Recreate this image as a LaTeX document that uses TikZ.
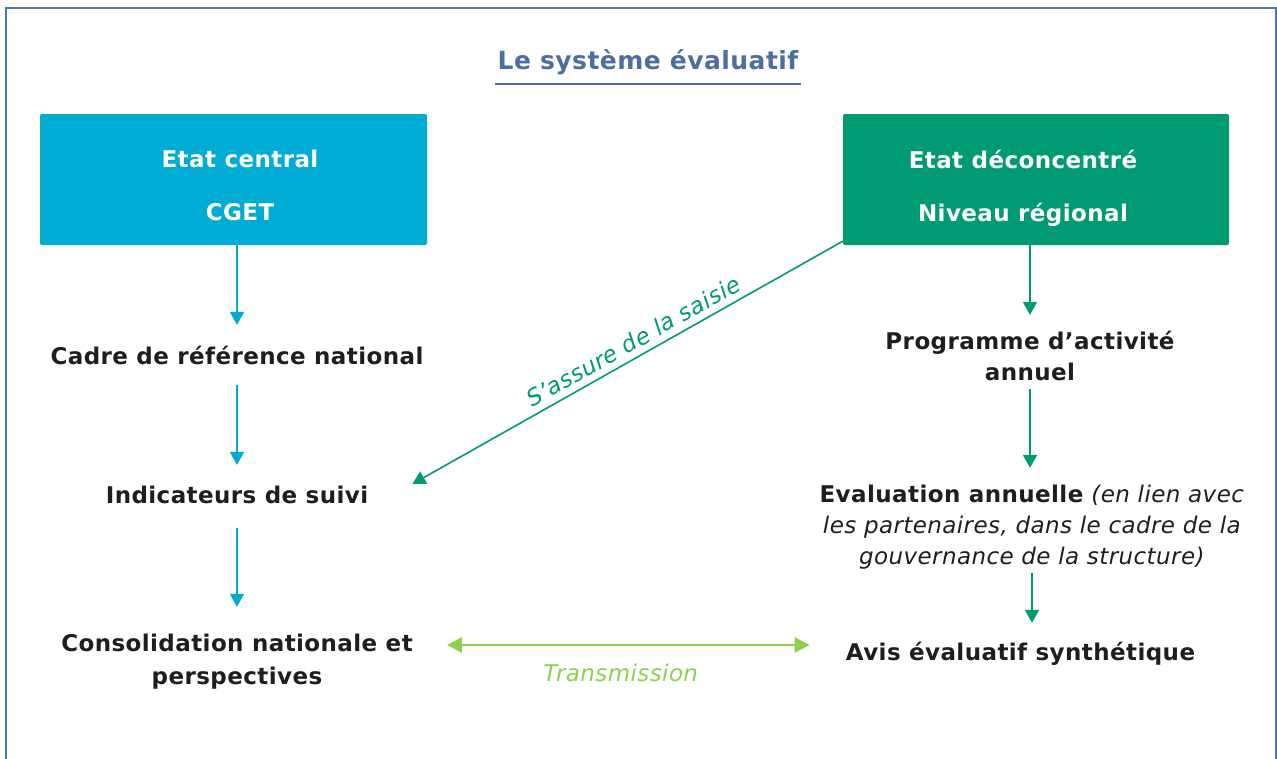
\documentclass[tikz,border=0pt]{standalone}
\usepackage{fontspec}
\setmainfont{DejaVu Sans}[LetterSpace=1.8]
\usetikzlibrary{arrows.meta}
\definecolor{cblue}{HTML}{00ABD4}
\definecolor{cgreen}{HTML}{009B72}
\definecolor{clight}{HTML}{8DD050}
\definecolor{ctitle}{HTML}{4A6FA0}
\definecolor{cframe}{HTML}{4E76A9}
\definecolor{ctext}{HTML}{1E1E1E}
\begin{document}
\begin{tikzpicture}[x=1pt,y=-1pt,
  box/.style={rounded corners=2pt, minimum width=387pt, minimum height=131pt, inner sep=0pt},
  boxtext/.style={text=white, font=\fontsize{23}{53}\selectfont\bfseries, align=center, inner sep=0pt, anchor=north},
  body/.style={text=ctext, font=\fontsize{23}{31}\selectfont, align=center, inner sep=0pt, anchor=north},
  barrow/.style={draw=cblue, line width=1.6pt, -{Triangle[width=14pt,length=13pt]}, cblue},
  garrow/.style={draw=cgreen, line width=1.6pt, -{Triangle[width=14pt,length=13pt]}, cgreen},
  larrow/.style={draw=clight, line width=2.6pt, {Triangle[width=15pt,length=15pt]}-{Triangle[width=15pt,length=15pt]}, clight},
  lbl/.style={font=\fontsize{23}{28}\selectfont\itshape, inner sep=0pt}
]
\useasboundingbox (0,0) rectangle (1277,758);
% frame
\draw[cframe, line width=2pt] (6,760) -- (6,8) -- (1276,8) -- (1276,760);

% title
\node[text=ctitle, font=\fontsize{25}{30}\selectfont\bfseries, inner sep=0pt] (title) at (648,62) {Le système évaluatif};
\draw[ctitle, line width=2pt] ([shift={(-2,22)}]title.west) -- ([shift={(2,22)}]title.east);

% boxes
\node[box, fill=cblue] (ec) at (233.5,179.5) {};
\node[boxtext] (ect) at (240,150.3) {Etat central\\CGET};
\node[box, fill=cgreen, minimum width=386pt] (ds) at (1036,179.5) {};
\node[boxtext] (dst) at (1023,150.3) {Etat déconcentré\\Niveau régional};

% left column
\node[body] (cadre) at (237,345.9) {\bfseries Cadre de référence national};
\node[body] (indic) at (237,485.9) {\bfseries Indicateurs de suivi};
\node[body, font=\fontsize{23}{33}\selectfont\bfseries] (conso) at (237,633.9) {Consolidation nationale et\\perspectives};

% right column
\node[body, font=\fontsize{23}{31}\selectfont\bfseries] (prog) at (1030,330.9) {Programme d’activité\\annuel};
\node[body] (eval) at (1032,484.9) {\textbf{Evaluation annuelle} \textit{(en lien avec}\\\textit{les partenaires, dans le cadre de la}\\\textit{gouvernance de la structure)}};
\node[body] (avis) at (1020.5,641.9) {\bfseries Avis évaluatif synthétique};

% left arrows
\draw[barrow, shorten >=21pt] (ec.south -| cadre.north) -- (cadre.north);
\draw[barrow, shorten <=19.5pt, shorten >=21pt] (cadre.south) -- (indic.north);
\draw[barrow, shorten <=24pt, shorten >=27pt] (indic.south) -- (conso.north);

% right arrows
\draw[garrow, shorten >=16pt] (ds.south -| prog.north) -- (prog.north);
\draw[garrow, shorten <=8pt, shorten >=17pt] (prog.south) -- (prog.south |- eval.north);
\draw[garrow, shorten <=3pt, shorten >=19pt] (eval.south) -- (eval.south |- avis.north);

% diagonal
\draw[garrow] ([shift={(0,-4)}]ds.south west) -- ([shift={(44,-11)}]indic.east);
\path ([shift={(44,-11)}]indic.east) -- ([shift={(0,-4)}]ds.south west)
  node[lbl, text=cgreen, sloped, above=6.9pt, pos=0.531] (saisie) {S’assure de la saisie};

% transmission
\draw[larrow] ([shift={(34,11.1)}]conso.north east) -- ([shift={(-36,3.1)}]avis.north west)
  node[lbl, text=clight, pos=0.479, below=17.9pt] (trans) {Transmission};
\end{tikzpicture}
\end{document}
